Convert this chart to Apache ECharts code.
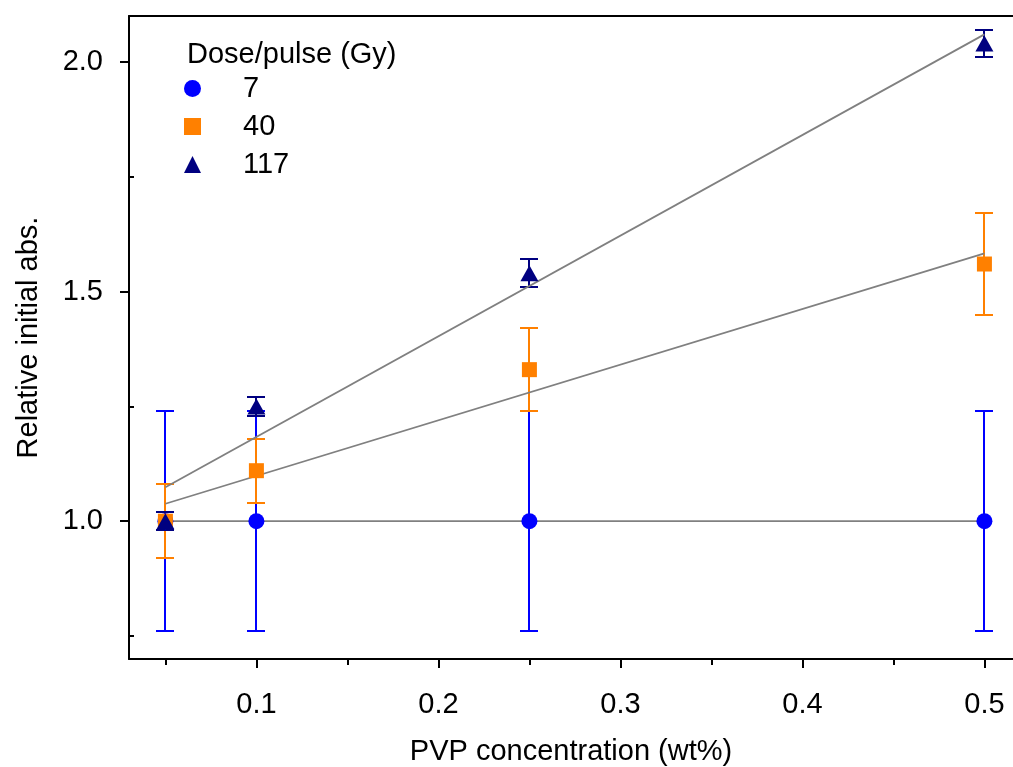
<!DOCTYPE html>
<html>
<head>
<meta charset="utf-8">
<script src="https://cdn.jsdelivr.net/npm/echarts@6/dist/echarts.min.js"></script>
<style>
  html, body { margin: 0; padding: 0; background: #fff; }
  #chart { width: 1013px; height: 767px; }
</style>
</head>
<body>
<div id="chart"></div>
<script>
// PVP concentrations (wt%)
const concentrations = [0.05, 0.1, 0.25, 0.5];

// Relative initial absorbance and error for each dose per pulse
const dose7 = [1.0, 1.0, 1.0, 1.0];
const err7 = [0.24, 0.24, 0.24, 0.24];
const dose40 = [1.0, 1.11, 1.33, 1.56];
const err40 = [0.08, 0.07, 0.09, 0.11];
const dose117 = [1.0, 1.25, 1.54, 2.04];
const err117 = [0.02, 0.02, 0.03, 0.03];

// Linear fit lines (end points)
const fitX = [0.05, 0.5];
const fit7 = [1.0, 1.0];
const fit40 = [1.038, 1.583];
const fit117 = [1.074, 2.06];

// Axis ticks
const xMajorTicks = [0.1, 0.2, 0.3, 0.4, 0.5];
const xMinorTicks = [0.05, 0.15, 0.25, 0.35, 0.45];
const yMajorTicks = [1.0, 1.5, 2.0];
const yMinorTicks = [0.75, 1.25, 1.75];

const seriesNames = ['7', '40', '117'];
const colors = ['#0000ff', '#ff8000', '#000080'];
const FONT = "'Liberation Sans', Arial, sans-serif";
const FS = 29;

const pairs = (xs, ys) => xs.map((x, i) => [x, ys[i]]);
const errRows = (xs, ys, es) => xs.map((x, i) => [x, ys[i] - es[i], ys[i] + es[i]]);

function errorBarSeries(name, rows, color) {
  return {
    type: 'custom',
    name: name,
    xAxisIndex: 0,
    yAxisIndex: 0,
    data: rows,
    z: 2,
    silent: true,
    renderItem: function (params, api) {
      const x = api.value(0);
      const lo = api.coord([x, api.value(1)]);
      const hi = api.coord([x, api.value(2)]);
      // snap to whole pixels so the 2px strokes stay crisp
      const px = Math.round(lo[0]);
      const yLo = Math.round(lo[1]);
      const yHi = Math.round(hi[1]);
      const hw = 9;
      const style = { stroke: color, lineWidth: 2 };
      return {
        type: 'group',
        children: [
          { type: 'line', shape: { x1: px, y1: yLo, x2: px, y2: yHi }, style: style },
          { type: 'line', shape: { x1: px - hw, y1: yLo, x2: px + hw, y2: yLo }, style: style },
          { type: 'line', shape: { x1: px - hw, y1: yHi, x2: px + hw, y2: yHi }, style: style }
        ]
      };
    }
  };
}

function fitSeries(name, ys) {
  return {
    type: 'line',
    name: name,
    xAxisIndex: 0,
    yAxisIndex: 0,
    data: pairs(fitX, ys),
    symbol: 'none',
    z: 3,
    silent: true,
    lineStyle: { color: '#808080', width: 1.8 }
  };
}

function markerSeries(name, ys, symbol, size, color) {
  return {
    type: 'scatter',
    name: name,
    xAxisIndex: 0,
    yAxisIndex: 0,
    data: pairs(concentrations, ys),
    symbol: symbol,
    symbolSize: size,
    z: 4,
    itemStyle: { color: color, opacity: 1 }
  };
}

const chart = echarts.init(document.getElementById('chart'), null, { renderer: 'canvas' });

chart.setOption({
  backgroundColor: '#ffffff',
  animation: false,
  textStyle: { fontFamily: FONT },
  grid: { left: 129, right: 0, top: 16, bottom: 108, containLabel: false, outerBoundsMode: 'none' },
  graphic: [{
    type: 'text',
    left: 187,
    top: 40,
    style: { text: 'Dose/pulse (Gy)', font: FS + "px " + FONT, fill: '#000' }
  }],
  legend: {
    data: seriesNames,
    orient: 'vertical',
    left: 184,
    top: 74,
    padding: 0,
    itemWidth: 17,
    itemHeight: 17,
    itemGap: 9,
    textStyle: { fontSize: FS, color: '#000', fontFamily: FONT, padding: [0, 0, 0, 37] },
    selectedMode: false
  },
  xAxis: [
    {
      type: 'value',
      position: 'bottom',
      min: 0.03,
      max: 0.5157,
      name: 'PVP concentration (wt%)',
      nameLocation: 'middle',
      nameGap: 78,
      nameTextStyle: { fontSize: FS, color: '#000', fontFamily: FONT },
      axisLine: { show: true, onZero: false, lineStyle: { color: '#000', width: 2 } },
      axisTick: { show: true, customValues: xMajorTicks, length: 9, lineStyle: { color: '#000', width: 2 } },
      axisLabel: { show: true, customValues: xMajorTicks, margin: 31, fontSize: FS, color: '#000', fontFamily: FONT,
        formatter: v => String(v) },
      splitLine: { show: false }
    },
    {
      type: 'value',
      position: 'bottom',
      min: 0.03,
      max: 0.5157,
      axisLine: { show: false, onZero: false },
      axisTick: { show: true, customValues: xMinorTicks, length: 6, lineStyle: { color: '#000', width: 2 } },
      axisLabel: { show: false },
      splitLine: { show: false }
    },
    {
      type: 'value',
      position: 'top',
      min: 0.03,
      max: 0.5157,
      axisLine: { show: true, onZero: false, lineStyle: { color: '#000', width: 2 } },
      axisTick: { show: false },
      axisLabel: { show: false },
      splitLine: { show: false }
    }
  ],
  yAxis: [
    {
      type: 'value',
      position: 'left',
      min: 0.7,
      max: 2.1,
      name: 'Relative initial abs.',
      nameLocation: 'middle',
      nameGap: 86,
      nameTextStyle: { fontSize: FS, color: '#000', fontFamily: FONT },
      axisLine: { show: true, onZero: false, lineStyle: { color: '#000', width: 2 } },
      axisTick: { show: true, customValues: yMajorTicks, length: 9, lineStyle: { color: '#000', width: 2 } },
      axisLabel: { show: true, customValues: yMajorTicks, margin: 26, fontSize: FS, color: '#000', fontFamily: FONT,
        formatter: v => v.toFixed(1) },
      splitLine: { show: false }
    },
    {
      type: 'value',
      position: 'left',
      min: 0.7,
      max: 2.1,
      axisLine: { show: false, onZero: false },
      axisTick: { show: true, inside: true, customValues: yMinorTicks, length: 5, lineStyle: { color: '#000', width: 2 } },
      axisLabel: { show: false },
      splitLine: { show: false }
    }
  ],
  series: [
    errorBarSeries('7 error', errRows(concentrations, dose7, err7), colors[0]),
    errorBarSeries('40 error', errRows(concentrations, dose40, err40), colors[1]),
    errorBarSeries('117 error', errRows(concentrations, dose117, err117), colors[2]),
    fitSeries('7 fit', fit7),
    fitSeries('40 fit', fit40),
    fitSeries('117 fit', fit117),
    markerSeries(seriesNames[0], dose7, 'circle', 16, colors[0]),
    markerSeries(seriesNames[1], dose40, 'rect', 15, colors[1]),
    markerSeries(seriesNames[2], dose117, 'triangle', [18, 16], colors[2])
  ]
});
</script>
</body>
</html>
